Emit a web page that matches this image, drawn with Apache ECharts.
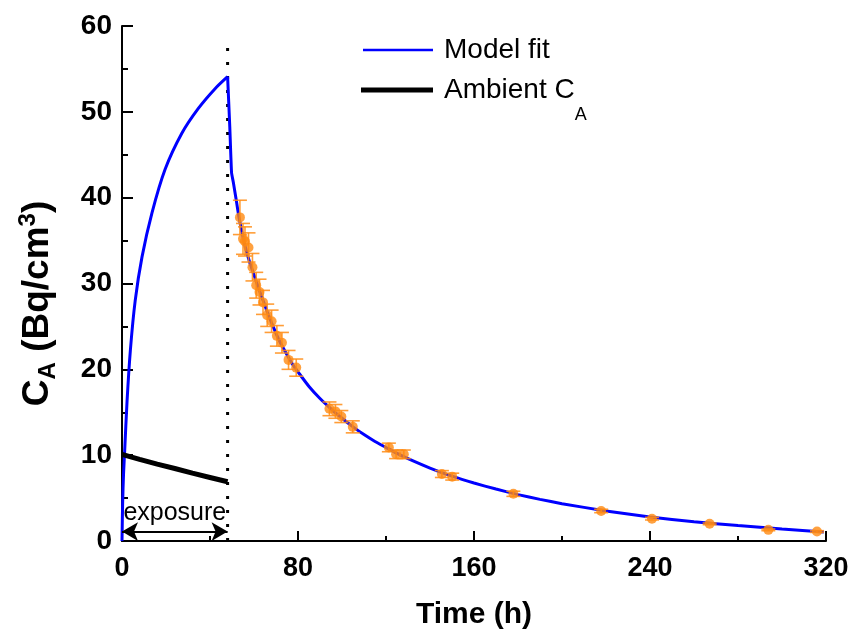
<!DOCTYPE html>
<html>
<head>
<meta charset="utf-8">
<script src="https://cdn.jsdelivr.net/npm/echarts@6/dist/echarts.min.js"></script>
<style>html,body{margin:0;padding:0;background:#fff;}#c{width:864px;height:635px;}</style>
</head>
<body>
<div id="c"></div>
<script>
// ---- data ----
// model fit: exposure (uptake) part and release (decay) part
const fitRiseT = [0, 0.3, 0.7, 1.2, 2.3, 3.8, 6.0, 9.1, 13.6, 19.6, 27.2, 34.7, 42.3, 48];
const fitRiseV = [0, 4.5, 7.8, 10.4, 16.3, 22.2, 28.0, 33.1, 38.2, 43.3, 47.5, 50.4, 52.7, 54.1];
const fitDecayT = [48, 49, 49.8, 50.6, 52, 53.1, 54.5, 56, 58, 60, 62, 64, 66, 68, 70, 72, 75, 78, 80, 85, 90, 95,
  100, 105, 110, 115, 120, 125, 130, 140, 150, 160, 170, 180, 190, 200, 220, 240, 260, 280, 300, 319];
const fitDecayV = [54.1, 48.2, 42.9, 41.8, 39.6, 37.8, 36.0, 34.3, 32.5, 31.0, 29.5, 28.1, 26.7, 25.4, 24.2, 23.1, 21.7, 20.4, 19.7, 18.0, 16.6, 15.4,
  14.3, 13.3, 12.4, 11.6, 10.9, 10.2, 9.6, 8.5, 7.55, 6.75, 6.05, 5.4, 4.85, 4.35, 3.5, 2.8, 2.25, 1.8, 1.4, 1.05];

const ambientT = [0, 8, 16, 24, 32, 40, 48];
const ambientV = [10.1, 9.5, 8.95, 8.45, 7.9, 7.4, 6.9];

const dataT = [53.6, 55.0, 55.9, 57.5, 59.3, 61.0, 62.5, 64.1, 66.0, 68.0, 70.4, 72.7, 75.7, 79.2,
  94.3, 97.0, 99.7, 104.9, 121.3, 124.6, 128.1, 145.4, 150.1, 177.9, 217.8, 240.9, 267.1, 293.8, 315.9];
const dataV = [37.7, 35.2, 34.9, 34.2, 31.9, 29.8, 29.0, 27.8, 26.3, 25.6, 23.9, 23.1, 21.1, 20.2,
  15.4, 15.1, 14.5, 13.3, 10.9, 10.1, 10.1, 7.8, 7.5, 5.5, 3.5, 2.6, 2.0, 1.3, 1.1];
const dataErr = [2.0, 1.8, 1.7, 1.7, 1.6, 1.5, 1.5, 1.4, 1.3, 1.3, 1.2, 1.2, 1.1, 1.0,
  0.8, 0.8, 0.7, 0.7, 0.5, 0.5, 0.5, 0.4, 0.4, 0.3, 0.2, 0.15, 0.1, 0.1, 0.1];

const exposureEnd = 48;
const dottedTop = 58.7;
const arrowLevel = 1.1;
const exposureLabelPos = [24, 3.3];

const xMin = 0, xMax = 320, xStep = 80;
const yMin = 0, yMax = 60, yStep = 10;

const seriesNames = ['Model fit', 'Ambient C_A'];

// ---- chart ----
const FONT = 'Liberation Sans, Arial, sans-serif';
const chart = echarts.init(document.getElementById('c'));

const riseData = fitRiseT.map((t, i) => [t, fitRiseV[i]]);
const decayData = fitDecayT.map((t, i) => [t, fitDecayV[i]]);
const ambData = ambientT.map((t, i) => [t, ambientV[i]]);
const ptData = dataT.map((t, i) => [t, dataV[i]]);
const errData = dataT.map((t, i) => [t, dataV[i] - dataErr[i], dataV[i] + dataErr[i]]);

const axisLine = {show: true, onZero: false, lineStyle: {color: '#000', width: 2}};
const blueLine = {color: '#0000FF', width: 3};

chart.setOption({
  animation: false,
  backgroundColor: '#fff',
  grid: {left: 122, right: 38, top: 26, bottom: 92},
  xAxis: {
    type: 'value', min: xMin, max: xMax, interval: xStep,
    axisLine: axisLine,
    axisTick: {show: true, inside: true, length: 10, lineStyle: {color: '#000', width: 2}},
    minorTick: {show: true, splitNumber: 2, length: 5, lineStyle: {color: '#000', width: 2}},
    splitLine: {show: false},
    axisLabel: {color: '#000', fontFamily: FONT, fontWeight: 'bold', fontSize: 27, margin: 14},
    name: 'Time (h)', nameLocation: 'middle', nameGap: 59,
    nameTextStyle: {color: '#000', fontFamily: FONT, fontWeight: 'bold', fontSize: 30}
  },
  yAxis: {
    type: 'value', min: yMin, max: yMax, interval: yStep,
    axisLine: axisLine,
    axisTick: {show: true, inside: true, length: 11, lineStyle: {color: '#000', width: 2}},
    minorTick: {show: true, splitNumber: 2, length: 6, lineStyle: {color: '#000', width: 2}},
    splitLine: {show: false},
    axisLabel: {color: '#000', fontFamily: FONT, fontWeight: 'bold', fontSize: 28, margin: 10},
    name: 'C{sub|A} (Bq/cm{sup|3})', nameLocation: 'middle', nameGap: 62,
    nameTextStyle: {
      color: '#000', fontFamily: FONT, fontWeight: 'bold', fontSize: 37, padding: [0, 40, 0, 0],
      rich: {
        sub: {fontFamily: FONT, fontWeight: 'bold', fontSize: 24, color: '#000', padding: [20, 0, 0, 0]},
        sup: {fontFamily: FONT, fontWeight: 'bold', fontSize: 24, color: '#000', padding: [0, 0, 20, 0]}
      }
    }
  },
  legend: [
    {
      data: [seriesNames[0]], left: 363, top: 35, padding: 0,
      icon: 'rect', itemWidth: 70, itemHeight: 2.5,
      textStyle: {color: '#000', fontFamily: FONT, fontSize: 28, lineHeight: 30, padding: [0, 0, 0, 6]}
    },
    {
      data: [seriesNames[1]], left: 361, top: 56, padding: 0,
      icon: 'rect', itemWidth: 72, itemHeight: 5,
      formatter: () => 'Ambient C{sub|A}',
      textStyle: {
        color: '#000', fontFamily: FONT, fontSize: 28, lineHeight: 30, padding: [0, 0, 0, 6],
        rich: {sub: {fontFamily: FONT, fontSize: 18, color: '#000', lineHeight: 18, padding: [50, 0, 0, 0]}}
      }
    }
  ],
  series: [
    {
      name: seriesNames[0], type: 'line', data: riseData, showSymbol: false, symbol: 'none',
      smooth: 0.3,
      lineStyle: blueLine, itemStyle: {color: '#0000FF'}, z: 3
    },
    {
      name: seriesNames[0], type: 'line', data: decayData, showSymbol: false, symbol: 'none',
      smooth: 0.15,
      lineStyle: blueLine, itemStyle: {color: '#0000FF'}, z: 3
    },
    {
      name: seriesNames[1], type: 'line', data: ambData, showSymbol: false, symbol: 'none',
      lineStyle: {color: '#000', width: 5}, itemStyle: {color: '#000'}, z: 3
    },
    {
      name: 'exposure', type: 'line', data: [[exposureEnd, yMin], [exposureEnd, dottedTop]],
      showSymbol: false, symbol: 'none',
      lineStyle: {color: '#000', width: 3, type: [3, 11]}, z: 2,
      markLine: {
        silent: true, symbol: ['arrow', 'arrow'], symbolSize: [14, 16],
        lineStyle: {color: '#000', width: 2, type: 'solid'},
        label: {show: false},
        data: [[{coord: [xMin, arrowLevel]}, {coord: [exposureEnd, arrowLevel]}]]
      },
      markPoint: {
        silent: true, symbol: 'circle', symbolSize: 0,
        label: {show: true, position: 'inside', formatter: 'exposure', color: '#000', fontFamily: FONT, fontSize: 25},
        data: [{coord: exposureLabelPos}]
      }
    },
    {
      name: 'err', type: 'custom', data: errData, z: 4,
      renderItem: function (params, api) {
        const x = api.value(0);
        const lo = api.coord([x, api.value(1)]);
        const hi = api.coord([x, api.value(2)]);
        const w = 7;
        const st = {stroke: 'rgba(255,140,20,0.85)', lineWidth: 1.6};
        return {
          type: 'group',
          children: [
            {type: 'line', shape: {x1: lo[0], y1: lo[1], x2: hi[0], y2: hi[1]}, style: st},
            {type: 'line', shape: {x1: lo[0] - w, y1: lo[1], x2: lo[0] + w, y2: lo[1]}, style: st},
            {type: 'line', shape: {x1: hi[0] - w, y1: hi[1], x2: hi[0] + w, y2: hi[1]}, style: st}
          ]
        };
      }
    },
    {
      name: 'data', type: 'scatter', data: ptData, symbol: 'circle', symbolSize: 10,
      itemStyle: {color: '#FF8A10'}, z: 5
    }
  ]
});
</script>
</body>
</html>
